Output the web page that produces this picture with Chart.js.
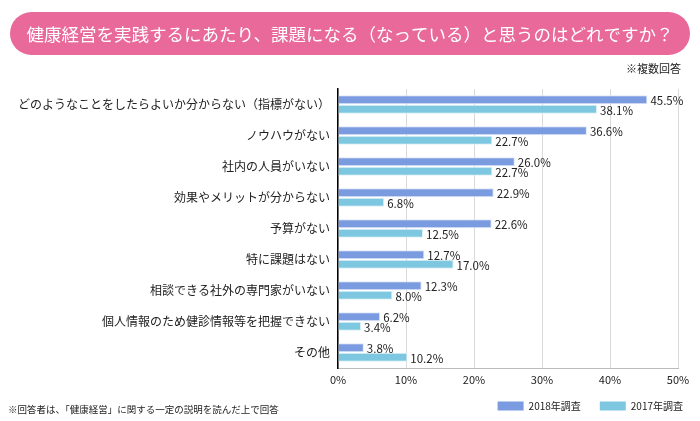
<!DOCTYPE html>
<html><head><meta charset="utf-8">
<script src="https://cdn.jsdelivr.net/npm/chart.js@4"></script>
<style>html,body{margin:0;padding:0;background:#fff}#wrap{width:700px;height:421px;position:relative}</style>
</head><body><div id="wrap"><canvas id="c" width="700" height="421"></canvas></div>
<script>
const FONT = '"Noto Sans CJK JP","Noto Sans",sans-serif';
const categories = ['どのようなことをしたらよいか分からない（指標がない）','ノウハウがない','社内の人員がいない','効果やメリットが分からない','予算がない','特に課題はない','相談できる社外の専門家がいない','個人情報のため健診情報等を把握できない','その他'];
const values2018 = [45.5,36.6,26.0,22.9,22.6,12.7,12.3,6.2,3.8];
const values2017 = [38.1,22.7,22.7,6.8,12.5,17.0,8.0,3.4,10.2];
const seriesNames = ['2018年調査','2017年調査'];
const xTicks = [0,10,20,30,40,50];
const titleText = '健康経営を実践するにあたり、課題になる（なっている）と思うのはどれですか？';
const noteTop = '※複数回答';
const noteBottom = '※回答者は、「健康経営」に関する一定の説明を読んだ上で回答';

const deco = {
  id:'deco',
  afterLayout(chart){
    if(chart.legend){chart.legend.left+=14;chart.legend.right+=14;}
  },
  beforeDraw(chart){
    const ctx = chart.ctx;
    ctx.save();
    const x=10,y=12,w=680,h=43,r=21.5;
    ctx.fillStyle='#E8699A';
    ctx.beginPath();
    ctx.moveTo(x+r,y);ctx.lineTo(x+w-r,y);ctx.arc(x+w-r,y+r,r,-Math.PI/2,Math.PI/2);
    ctx.lineTo(x+r,y+h);ctx.arc(x+r,y+r,r,Math.PI/2,Math.PI*1.5);ctx.closePath();ctx.fill();
    ctx.fillStyle='#fff';ctx.font='17.5px '+FONT;ctx.textAlign='center';ctx.textBaseline='middle';
    ctx.fillText(titleText,350,34);
    ctx.fillStyle='#222';ctx.font='11px '+FONT;ctx.textAlign='right';
    ctx.fillText(noteTop,681,69);
    ctx.textAlign='left';ctx.font='9.5px '+FONT;
    ctx.fillText(noteBottom,8,409);
    ctx.restore();
  },
  afterDatasetsDraw(chart){
    const ctx=chart.ctx;ctx.save();
    ctx.fillStyle='#222';ctx.font='11.5px '+FONT;ctx.textAlign='left';ctx.textBaseline='middle';
    chart.data.datasets.forEach((ds,i)=>{
      chart.getDatasetMeta(i).data.forEach((bar,j)=>{
        ctx.fillText(ds.data[j].toFixed(1)+'%',bar.x+3,bar.y+1);
      });
    });
    ctx.restore();
  }
};

new Chart(document.getElementById('c'),{
  type:'bar',
  data:{labels:categories,datasets:[
    {label:seriesNames[0],data:values2018,backgroundColor:'#7B9BE0',borderColor:'#dfe6f7',borderWidth:1,barPercentage:0.95,categoryPercentage:0.61},
    {label:seriesNames[1],data:values2017,backgroundColor:'#7EC7E0',borderColor:'#dff1f7',borderWidth:1,barPercentage:0.95,categoryPercentage:0.61}
  ]},
  options:{
    indexAxis:'y',responsive:false,animation:false,
    layout:{padding:{top:89,right:22,left:0,bottom:0}},
    scales:{
      x:{min:0,max:50,afterBuildTicks(s){s.ticks=xTicks.map(v=>({value:v}));},
        ticks:{callback:v=>v+'%',color:'#222',font:{family:FONT,size:11},padding:5,maxRotation:0},
        grid:{color:'#d9d9d9',drawTicks:false},border:{color:'#bbb'},
        afterFit(s){s.height=24;}},
      y:{ticks:{color:'#222',font:{family:FONT,size:12},padding:8},
        grid:{display:false,drawTicks:false},border:{color:'#000',width:1.5},
        afterFit(s){s.width=338;}}
    },
    plugins:{
      legend:{position:'bottom',align:'end',labels:{boxWidth:26,boxHeight:9,color:'#222',font:{family:FONT,size:10},padding:9,
        generateLabels(chart){
          const items=Chart.defaults.plugins.legend.labels.generateLabels(chart);
          items[0].text=items[0].text+'　';
          items.forEach(it=>{it.lineWidth=0;});
          return items;
        }}},
      tooltip:{enabled:false}
    }
  },
  plugins:[deco]
});
</script></body></html>
